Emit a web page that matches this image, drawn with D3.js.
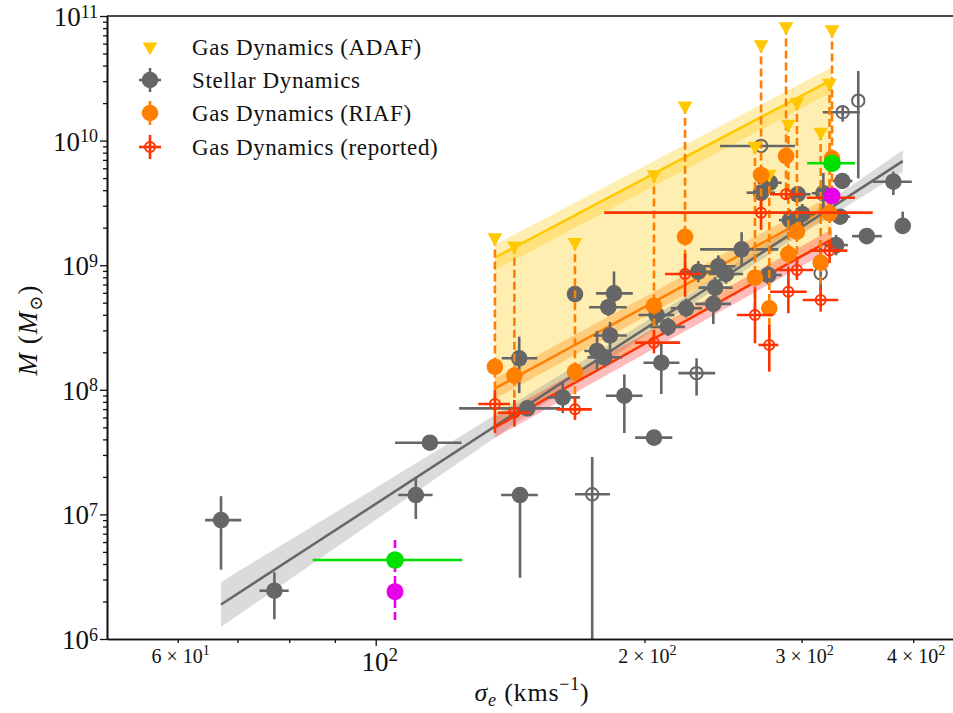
<!DOCTYPE html>
<html>
<head>
<meta charset="utf-8">
<script src="https://cdn.jsdelivr.net/npm/d3@7"></script>
<style>
  body { margin: 0; background: #fff; }
  text { font-family: "Liberation Serif", "DejaVu Serif", serif; fill: #111; }
</style>
</head>
<body>
<div id="chart"></div>
<script>
// ---- data ----
// stellar dynamics: [sigma, sigmaLo, sigmaHi, mass, massLo, massHi]
const stellarFilled = [
  [67.1, 64.4, 70.7, 9.0e6, 3.6e6, 1.4e7],
  [77.0, 74.1, 79.9, 2.44e6, 1.44e6, 3.43e6],
  [110.9, 106.0, 115.8, 1.43e7, 9.2e6, 2.0e7],
  [115.0, 105.1, 124.8, 3.76e7, null, null],
  [145.1, 138.2, 151.9, 1.43e7, 3.1e6, 1.66e7],
  [147.9, 124.0, 160.9, 7.1e7, null, null],
  [144.8, 138.4, 151.7, 1.79e8, 9.4e7, 2.67e8],
  [162.0, 155.5, 169.4, 8.7e7, 6.5e7, 1.14e8],
  [167.2, null, null, 5.87e8, null, null],
  [184.9, 176.5, 194.1, 5.94e8, 4.4e8, 8.9e8],
  [182.2, 173.4, 191.1, 4.6e8, 3.9e8, 5.4e8],
  [183.0, 175.5, 191.1, 2.73e8, 2.0e8, 3.5e8],
  [177.0, 171.3, 184.0, 2.05e8, 1.44e8, 2.97e8],
  [180.3, 172.6, 188.8, 1.82e8, 1.6e8, 2.1e8],
  [189.9, 181.1, 199.0, 8.97e7, 4.5e7, 1.33e8],
  [205.0, 195.3, 214.9, 4.13e7, null, null],
  [208.9, 199.5, 218.9, 1.65e8, 9.25e7, 2.36e8],
  [206.4, 197.0, 216.0, 3.98e8, 3.3e8, 4.8e8],
  [212.5, 203.0, 222.0, 3.2e8, 2.7e8, 3.8e8],
  [222.7, 214.0, 232.0, 4.51e8, 3.8e8, 5.4e8],
  [238.9, 228.0, 250.0, 4.89e8, 3.37e8, 6.94e8],
  [240.0, 230.0, 251.0, 6.61e8, 5.5e8, 8.0e8],
  [229.8, 220.0, 240.0, 8.87e8, 7.3e8, 1.08e9],
  [242.0, 232.0, 253.0, 9.8e8, 8.0e8, 1.2e9],
  [246.9, 236.0, 258.0, 8.5e8, 7.1e8, 1.0e9],
  [257.0, 230.9, 282.5, 1.34e9, 1.0e9, 1.84e9],
  [275.3, 266.0, 285.0, 8.34e8, 7.0e8, 1.0e9],
  [270.2, 260.3, 280.1, 3.82e9, null, null],
  [276.5, 268.0, 285.0, 4.59e9, null, null],
  [297.0, 287.8, 307.0, 3.71e9, null, null],
  [317.3, 308.0, 327.0, 3.78e9, 2.62e9, 5.5e9],
  [333.2, 325.0, 342.0, 4.74e9, null, null],
  [331.3, 322.0, 340.0, 2.45e9, null, null],
  [291.1, 283.0, 300.0, 2.3e9, 1.9e9, 2.8e9],
  [300.5, 292.0, 310.0, 2.57e9, 2.1e9, 3.1e9],
  [327.9, 318.0, 338.0, 1.45e9, 1.2e9, 1.75e9],
  [354.9, 341.7, 369.0, 1.71e9, null, null],
  [380.1, 360.3, 398.6, 4.68e9, 3.66e9, 5.63e9],
  [389.4, null, null, 2.07e9, null, 2.69e9]
];
const stellarOpen = [
  [174.8, 167.2, 183.0, 1.45e7, 5e5, 2.89e7],
  [228.8, 218.3, 240.0, 1.36e8, 8.98e7, 1.79e8],
  [315.1, null, null, 8.61e8, 6.33e8, 1.59e9],
  [270.2, 243.0, 294.9, 9.06e9, null, null],
  [333.5, 316.8, 348.7, 1.69e10, 1.42e10, 1.9e10],
  [347.2, null, null, 2.09e10, 4.97e9, 3.62e10]
];

// gas dynamics objects (same sigma for ADAF / RIAF / reported)
const gasSigma = [136.0, 143.0, 167.2, 205.0, 222.1, 270.2, 288.2, 324.5, 322.4, 296.4, 289.9, 315.1, 266.0, 276.0];
const adafMass = [1.67e9, 1.43e9, 1.53e9, 5.35e9, 1.90e10, 5.9e10, 8.24e10, 7.8e10, 2.9e10, 2.04e10, 1.36e10, 1.17e10, 9.06e9, 5.4e9];
const riafMass = [1.53e8, 1.30e8, 1.40e8, 4.73e8, 1.69e9, 5.30e9, 7.51e9, 7.21e9, 2.61e9, 1.86e9, 1.23e9, 1.05e9, 7.94e8, 4.51e8];
const reportedMass = [7.69e7, 6.55e7, 6.97e7, 2.39e8, 8.5e8, 2.64e9, 3.71e9, 3.48e9, 1.31e9, 9.14e8, 6.12e8, 5.26e8, 3.98e8, 2.29e8];
const reportedSigmaErr = [[130.3, 141.4], [137.0, 149.0], [159.5, 174.6], [195.2, 219.3], [210.9, 231.9], [180.3, 360.4], [276.5, 301.1],
  [304.0, 344.3], [306.6, 337.5], [282.5, 309.2], [276.5, 304.0], [300.9, 329.8], [253.8, 278.9], [268.4, 282.5]];
const reportedMassErr = [[4.5e7, 1.0e8], [5.06e7, 8.28e7], [5.73e7, 8.8e7], [1.96e8, 3.02e8], [5.58e8, 1.24e9], [1.92e9, 3.44e9], [3.4e9, 4.0e9],
  [3.2e9, 3.8e9], [1.04e9, 1.6e9], [7.6e8, 1.17e9], [4.11e8, 9.73e8], [4.24e8, 6.71e8], [2.36e8, 6.71e8], [1.4e8, 3.31e8]];

// highlighted objects: [sigma, sigmaLo, sigmaHi, mass]
const greenPts = [[324.5, 304.4, 344.3, 6.58e9], [105.1, 85.0, 125.0, 4.3e6]];
// [sigma, mass, massLo, massHi]
const magentaPts = [[324.5, 3.59e9, 3.25e9, 3.95e9], [105.1, 2.4e6, 1.42e6, 6.62e6]];

// fits: log10 M = intercept + slope * log10(sigma / 200), band half width in dex
const fitKeys = ["stellar", "adaf", "riaf", "reported"];
const fitIntercept = [8.487, 9.695, 8.664, 8.368];
const fitSlope = [4.66, 3.78, 3.9, 4.0];
const fitSigmaMin = [67.1, 136.0, 136.0, 136.0];
const fitSigmaMax = [389.4, 324.5, 324.5, 324.5];
const fitBandCore = [0.05, 0.1, 0.08, 0.08];
const fitBandGrowth = [0.32, 0.1, 0.1, 0.1];

const legendLabels = ["Gas Dynamics (ADAF)", "Stellar Dynamics", "Gas Dynamics (RIAF)", "Gas Dynamics (reported)"];
const yMajor = [1e6, 1e7, 1e8, 1e9, 1e10, 1e11];
const xMinorLabelled = [60, 200, 300, 400];

// ---- colours ----
const gray = "#666666", gold = "#ffc800", orange = "#ff7f00", red = "#ff3300", green = "#00e000", magenta = "#e600e6";
const fitColor = [gray, gold, orange, red];
const bandColor = ["#888888", gold, orange, "#ff2020"];

const W = 953, H = 713;
const x = d3.scaleLog().domain([50, 450]).range([107, 958.8]);
const y = d3.scaleLog().domain([1e6, 1e11]).range([639, 16]);

const svg = d3.select("#chart").append("svg").attr("width", W).attr("height", H);
svg.append("defs").append("clipPath").attr("id", "clip")
  .append("rect").attr("x", 107).attr("y", 16).attr("width", 852).attr("height", 623);
const plot = svg.append("g").attr("clip-path", "url(#clip)");

function fitLog(i, s) { return fitIntercept[i] + fitSlope[i] * Math.log10(s / 200); }
function fitHalf(i, s) {
  const d = Math.log10(s / 200) - 0.07;
  return Math.sqrt(fitBandCore[i] ** 2 + (fitBandGrowth[i] * d) ** 2);
}
function sigmaGrid(i) {
  return d3.range(0, 41).map(k => fitSigmaMin[i] * Math.pow(fitSigmaMax[i] / fitSigmaMin[i], k / 40));
}

// yellow region between ADAF and reported fits
plot.append("path")
  .datum(sigmaGrid(1))
  .attr("d", d3.area()
    .x(s => x(s))
    .y0(s => y(Math.pow(10, fitLog(3, s))))
    .y1(s => y(Math.pow(10, fitLog(1, s)))))
  .attr("fill", gold).attr("fill-opacity", 0.3);

// confidence bands
fitKeys.forEach((k, i) => {
  plot.append("path")
    .datum(sigmaGrid(i))
    .attr("d", d3.area()
      .x(s => x(s))
      .y0(s => y(Math.pow(10, fitLog(i, s) - fitHalf(i, s))))
      .y1(s => y(Math.pow(10, fitLog(i, s) + fitHalf(i, s)))))
    .attr("fill", bandColor[i]).attr("fill-opacity", 0.3);
});

// fit lines
fitKeys.forEach((k, i) => {
  plot.append("path")
    .datum([fitSigmaMin[i], fitSigmaMax[i]])
    .attr("d", d3.line().x(s => x(s)).y(s => y(Math.pow(10, fitLog(i, s)))))
    .attr("stroke", fitColor[i]).attr("stroke-width", 2.5).attr("fill", "none");
});

// stellar error bars
function errBars(rows, color) {
  rows.forEach(r => {
    const [s, sl, sh, m, ml, mh] = r;
    if (sl !== null) plot.append("line").attr("x1", x(sl)).attr("x2", x(sh)).attr("y1", y(m)).attr("y2", y(m))
      .attr("stroke", color).attr("stroke-width", 2.6);
    if (ml !== null || mh !== null) plot.append("line").attr("x1", x(s)).attr("x2", x(s))
      .attr("y1", y(ml !== null ? ml : m)).attr("y2", y(mh !== null ? mh : m))
      .attr("stroke", color).attr("stroke-width", 2.6);
  });
}
errBars(stellarFilled, gray);
errBars(stellarOpen, gray);

plot.selectAll(".stellar").data(stellarFilled).join("circle")
  .attr("cx", d => x(d[0])).attr("cy", d => y(d[3])).attr("r", 8.3).attr("fill", gray);
plot.selectAll(".stellarOpen").data(stellarOpen).join("circle")
  .attr("cx", d => x(d[0])).attr("cy", d => y(d[3])).attr("r", 6.2)
  .attr("fill", "none").attr("stroke", gray).attr("stroke-width", 2);

// dashed links ADAF -> reported
gasSigma.forEach((s, i) => {
  plot.append("line").attr("x1", x(s)).attr("x2", x(s))
    .attr("y1", y(adafMass[i])).attr("y2", y(reportedMass[i]))
    .attr("stroke", orange).attr("stroke-width", 2.6).attr("stroke-dasharray", "8,4");
});

const tri = d3.symbol().type(d3.symbolTriangle).size(95);
plot.selectAll(".adaf").data(gasSigma).join("path")
  .attr("d", tri)
  .attr("transform", (s, i) => `translate(${x(s)},${y(adafMass[i])}) rotate(180)`)
  .attr("fill", gold);

plot.selectAll(".riaf").data(gasSigma).join("circle")
  .attr("cx", s => x(s)).attr("cy", (s, i) => y(riafMass[i])).attr("r", 8.3).attr("fill", orange);

// reported: error bars + open circle
gasSigma.forEach((s, i) => {
  const m = reportedMass[i];
  plot.append("line").attr("x1", x(reportedSigmaErr[i][0])).attr("x2", x(reportedSigmaErr[i][1]))
    .attr("y1", y(m)).attr("y2", y(m)).attr("stroke", red).attr("stroke-width", 2.6);
  plot.append("line").attr("x1", x(s)).attr("x2", x(s))
    .attr("y1", y(reportedMassErr[i][0])).attr("y2", y(reportedMassErr[i][1])).attr("stroke", red).attr("stroke-width", 2.6);
  plot.append("circle").attr("cx", x(s)).attr("cy", y(m)).attr("r", 5)
    .attr("fill", "none").attr("stroke", red).attr("stroke-width", 2);
});

// green and magenta objects
greenPts.forEach(d => {
  plot.append("line").attr("x1", x(d[1])).attr("x2", x(d[2])).attr("y1", y(d[3])).attr("y2", y(d[3]))
    .attr("stroke", green).attr("stroke-width", 2.6);
});
magentaPts.forEach(d => {
  plot.append("line").attr("x1", x(d[0])).attr("x2", x(d[0])).attr("y1", y(d[2])).attr("y2", y(d[3]))
    .attr("stroke", magenta).attr("stroke-width", 2.6).attr("stroke-dasharray", "8,4");
});
plot.selectAll(".green").data(greenPts).join("circle")
  .attr("cx", d => x(d[0])).attr("cy", d => y(d[3])).attr("r", 8.8).attr("fill", green);
plot.selectAll(".magenta").data(magentaPts).join("circle")
  .attr("cx", d => x(d[0])).attr("cy", d => y(d[1])).attr("r", 8.5).attr("fill", magenta);

// ---- axes ----
const yMinor = [];
yMajor.slice(0, -1).forEach(v => { for (let k = 2; k < 10; k++) yMinor.push(v * k); });
const xMinor = [60, 70, 80, 90, 200, 300, 400];

const yAxisG = svg.append("g").attr("transform", "translate(107,0)");
yAxisG.call(d3.axisLeft(y).tickValues(yMajor).tickFormat("").tickSize(7).tickSizeOuter(0));
yAxisG.append("g").call(d3.axisLeft(y).tickValues(yMinor).tickFormat("").tickSize(4).tickSizeOuter(0));
const xAxisG = svg.append("g").attr("transform", "translate(0,639)");
xAxisG.call(d3.axisBottom(x).tickValues([100]).tickFormat("").tickSize(7).tickSizeOuter(0));
xAxisG.append("g").call(d3.axisBottom(x).tickValues(xMinor).tickFormat("").tickSize(4).tickSizeOuter(0));
svg.selectAll(".domain").attr("stroke", "#111").attr("stroke-width", 1.6);
svg.selectAll(".tick line").attr("stroke", "#111").attr("stroke-width", 1.3);
svg.append("line").attr("x1", 107).attr("x2", 958.8).attr("y1", 16).attr("y2", 16)
  .attr("stroke", "#111").attr("stroke-width", 1.6);

// y tick labels 10^n
yMajor.forEach(v => {
  const t = svg.append("text").attr("x", 98).attr("y", y(v) + 10).attr("text-anchor", "end").attr("font-size", 27);
  t.append("tspan").text("10");
  t.append("tspan").attr("font-size", 18).attr("dy", -8.5).text(String(Math.round(Math.log10(v))));
});
// x labels
{
  const t = svg.append("text").attr("x", x(100) + 4).attr("y", 671).attr("text-anchor", "middle").attr("font-size", 27);
  t.append("tspan").text("10");
  t.append("tspan").attr("font-size", 19).attr("dy", -10).text("2");
}
xMinorLabelled.forEach(v => {
  const e = Math.floor(Math.log10(v));
  const mant = Math.round(v / Math.pow(10, e));
  const t = svg.append("text").attr("x", x(v) + 3).attr("y", 663).attr("text-anchor", "middle").attr("font-size", 20);
  t.append("tspan").text(`${mant} \u00d7 10`);
  t.append("tspan").attr("font-size", 14).attr("dy", -8).text(String(e));
});

// axis titles
{
  const t = svg.append("text").attr("x", 532).attr("y", 701).attr("text-anchor", "middle")
    .attr("font-size", 26).attr("letter-spacing", 0.8);
  t.append("tspan").attr("font-style", "italic").text("\u03c3");
  t.append("tspan").attr("font-style", "italic").attr("font-size", 18).attr("dy", 5).text("e");
  t.append("tspan").attr("dy", -5).text(" (kms");
  t.append("tspan").attr("font-size", 18).attr("dy", -11).text("\u22121");
  t.append("tspan").attr("dy", 11).text(")");
}
{
  const t = svg.append("text").attr("transform", "translate(37,330) rotate(-90)").attr("text-anchor", "middle")
    .attr("font-size", 27).attr("letter-spacing", 1);
  t.append("tspan").attr("font-style", "italic").text("M");
  t.append("tspan").text(" (");
  t.append("tspan").attr("font-style", "italic").text("M");
  t.append("tspan").attr("font-size", 18).attr("dy", 5).text("\u2299");
  t.append("tspan").attr("dy", -5).text(")");
}

// ---- legend ----
const legendRows = [46.7, 80, 113, 147];
const lg = svg.append("g");
lg.append("path").attr("d", tri).attr("transform", `translate(150,${legendRows[0]}) rotate(180)`).attr("fill", gold);
lg.append("line").attr("x1", 139).attr("x2", 161).attr("y1", legendRows[1]).attr("y2", legendRows[1]).attr("stroke", gray).attr("stroke-width", 2.6);
lg.append("line").attr("x1", 150).attr("x2", 150).attr("y1", legendRows[1] - 12).attr("y2", legendRows[1] + 12).attr("stroke", gray).attr("stroke-width", 2.6);
lg.append("circle").attr("cx", 150).attr("cy", legendRows[1]).attr("r", 8.3).attr("fill", gray);
lg.append("line").attr("x1", 150).attr("x2", 150).attr("y1", legendRows[2] - 12).attr("y2", legendRows[2] + 12).attr("stroke", orange).attr("stroke-width", 2.6);
lg.append("circle").attr("cx", 150).attr("cy", legendRows[2]).attr("r", 8.3).attr("fill", orange);
lg.append("line").attr("x1", 139).attr("x2", 161).attr("y1", legendRows[3]).attr("y2", legendRows[3]).attr("stroke", red).attr("stroke-width", 2.6);
lg.append("line").attr("x1", 150).attr("x2", 150).attr("y1", legendRows[3] - 12).attr("y2", legendRows[3] + 12).attr("stroke", red).attr("stroke-width", 2.6);
lg.append("circle").attr("cx", 150).attr("cy", legendRows[3]).attr("r", 5).attr("fill", "none").attr("stroke", red).attr("stroke-width", 2);
legendLabels.forEach((l, i) => {
  lg.append("text").attr("x", 192).attr("y", legendRows[i] + 8).attr("font-size", 23)
    .attr("letter-spacing", 0.6).text(l);
});
</script>
</body>
</html>
